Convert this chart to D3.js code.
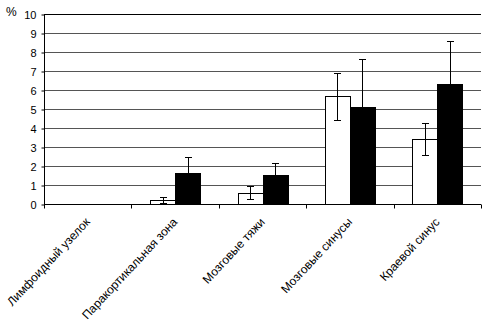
<!DOCTYPE html>
<html><head><meta charset="utf-8">
<script src="https://cdn.jsdelivr.net/npm/d3@7"></script>
<style>body{margin:0;background:#fff}svg{display:block;font-family:"Liberation Sans",Arial,sans-serif}</style>
</head><body><svg id="c" width="484" height="328"></svg>
<script>
const categories = ["Лимфоидный узелок","Паракортикальная зона","Мозговые тяжи","Мозговые синусы","Краевой синус"];
const seriesNames = ["white","black"];
const whiteValues = [0, 0.22, 0.6, 5.66, 3.42];
const whiteErrors = [0, 0.17, 0.35, 1.25, 0.85];
const blackValues = [0, 1.65, 1.53, 5.08, 6.31];
const blackErrors = [0, 0.83, 0.62, 2.55, 2.28];
const yTicks = [0,1,2,3,4,5,6,7,8,9,10];

const svg = d3.select("#c");
const x = d3.scaleBand().domain(categories).range([44, 481]);
const inner = d3.scaleBand().domain(seriesNames).range([0, x.bandwidth()]).paddingInner(0).paddingOuter(0.75);
const y = d3.scaleLinear().domain([0, 10]).range([204, 14]);

// gridlines
svg.append("g").selectAll("line").data(yTicks.filter(d=>d>0)).join("line")
  .attr("x1", 44).attr("x2", 481)
  .attr("y1", d=>Math.round(y(d))+0.5).attr("y2", d=>Math.round(y(d))+0.5)
  .attr("stroke", d=> d===10 ? "#000" : "#555").attr("stroke-width", 1);

// y axis
const yAxis = svg.append("g").attr("transform","translate(44.5,0.5)")
  .call(d3.axisLeft(y).tickValues(yTicks).tickSize(3).tickPadding(5).tickFormat(d3.format("d")));
yAxis.select(".domain").attr("stroke","#000").attr("d","M0,"+Math.round(y(10))+"V"+Math.round(y(0)));
yAxis.selectAll("text").attr("font-size","11px").attr("fill","#000");

// bars
const data = [];
categories.forEach((c,i)=>{
  data.push({c, s:"white", v:whiteValues[i], e:whiteErrors[i]});
  data.push({c, s:"black", v:blackValues[i], e:blackErrors[i]});
});
const bars = data.filter(d=>d.v>0);
svg.append("g").selectAll("rect").data(bars).join("rect")
  .attr("x", d=>Math.round(x(d.c)+inner(d.s))+0.5)
  .attr("y", d=>Math.round(y(d.v))+0.5)
  .attr("width", Math.round(inner.bandwidth()))
  .attr("height", d=>Math.round(y(0))-Math.round(y(d.v)))
  .attr("fill", d=>d.s==="white"?"#fff":"#000")
  .attr("stroke","#000").attr("stroke-width",1);

// error bars
const eg = svg.append("g").attr("stroke","#000").attr("stroke-width",1).attr("shape-rendering","crispEdges");
bars.forEach(d=>{
  const cx = Math.round(x(d.c)+inner(d.s)+inner.bandwidth()/2)+0.5;
  const y1 = Math.round(y(d.v+d.e))+0.5, y2 = Math.round(y(Math.max(0,d.v-d.e)))+0.5;
  eg.append("line").attr("x1",cx).attr("x2",cx).attr("y1",y1).attr("y2",y2);
  eg.append("line").attr("x1",cx-3.5).attr("x2",cx+3.5).attr("y1",y1).attr("y2",y1);
  eg.append("line").attr("x1",cx-3.5).attr("x2",cx+3.5).attr("y1",y2).attr("y2",y2);
});

// x axis
const xAxisG = svg.append("g").attr("transform","translate(0,"+(Math.round(y(0))+0.5)+")");
xAxisG.append("line").attr("x1",44).attr("x2",481).attr("stroke","#000");
const bounds = categories.map(c=>x(c)).concat([x.range()[1]]);
xAxisG.selectAll("line.t").data(bounds).join("line").attr("class","t")
  .attr("x1",d=>Math.round(d)+0.5).attr("x2",d=>Math.round(d)+0.5).attr("y1",0).attr("y2",4).attr("stroke","#000");
xAxisG.selectAll("text").data(categories).join("text")
  .attr("transform", d=>"translate("+(x(d)+x.bandwidth()/2+3)+",18) rotate(-47)")
  .attr("text-anchor","end").attr("font-size","12px").attr("fill","#000").text(d=>d);

svg.append("text").attr("x",6).attr("y",16).attr("font-size","12px").text("%");
</script></body></html>
